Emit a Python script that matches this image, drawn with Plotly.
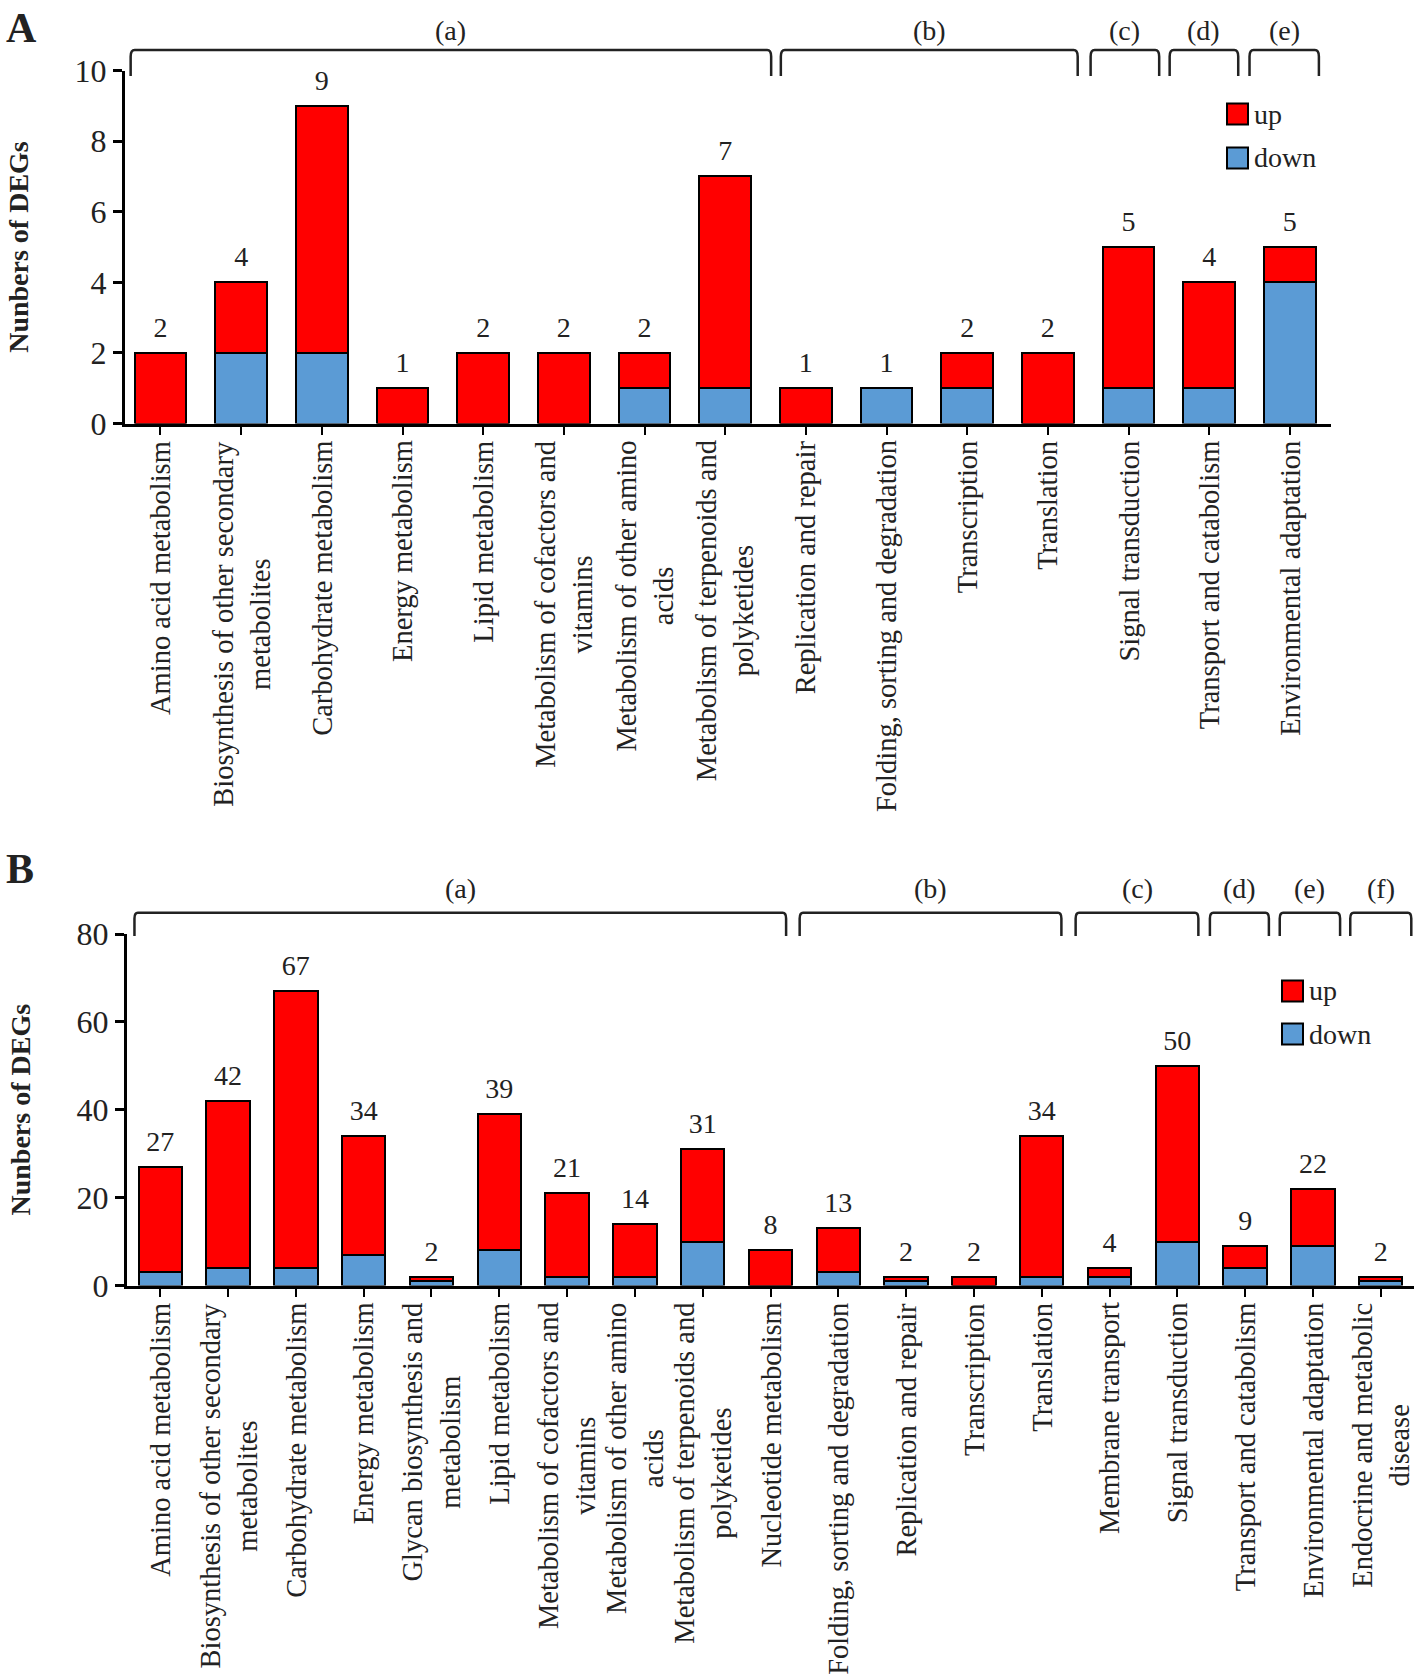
import plotly.graph_objects as go

W, H = 1416, 1677
FONT = "Liberation Serif"
RED = "#FF0000"
BLUE = "#5B9BD5"

# ---- panel A data ----
cats_a = ["Amino acid metabolism", "Biosynthesis of other secondary<br>metabolites",
          "Carbohydrate metabolism", "Energy metabolism", "Lipid metabolism",
          "Metabolism of cofactors and<br>vitamins", "Metabolism of other amino<br>acids",
          "Metabolism of terpenoids and<br>polyketides", "Replication and repair",
          "Folding, sorting and degradation", "Transcription", "Translation",
          "Signal transduction", "Transport and catabolism", "Environmental adaptation"]
up_a = [2, 2, 7, 1, 2, 2, 1, 6, 1, 0, 1, 2, 4, 3, 1]
down_a = [0, 2, 2, 0, 0, 0, 1, 1, 0, 1, 1, 0, 1, 1, 4]
groups_a = ["(a)", "(b)", "(c)", "(d)", "(e)"]

# ---- panel B data ----
cats_b = ["Amino acid metabolism", "Biosynthesis of other secondary<br>metabolites",
          "Carbohydrate metabolism", "Energy metabolism", "Glycan biosynthesis and<br>metabolism",
          "Lipid metabolism", "Metabolism of cofactors and<br>vitamins",
          "Metabolism of other amino<br>acids", "Metabolism of terpenoids and<br>polyketides",
          "Nucleotide metabolism", "Folding, sorting and degradation", "Replication and repair",
          "Transcription", "Translation", "Membrane transport", "Signal transduction",
          "Transport and catabolism", "Environmental adaptation",
          "Endocrine and metabolic<br>disease"]
up_b = [24, 38, 63, 27, 1, 31, 19, 12, 21, 8, 10, 1, 2, 32, 2, 40, 5, 13, 1]
down_b = [3, 4, 4, 7, 1, 8, 2, 2, 10, 0, 3, 1, 0, 2, 2, 10, 4, 9, 1]
groups_b = ["(a)", "(b)", "(c)", "(d)", "(e)", "(f)"]

# bracket extents in category-index units (layout only)
brackets_a = [(-0.37, 7.57), (7.69, 11.37), (11.53, 12.38), (12.51, 13.36), (13.5, 14.36)]
brackets_b = [(-0.38, 9.23), (9.43, 13.29), (13.5, 15.31), (15.48, 16.35), (16.51, 17.4), (17.55, 18.45)]


def py(y):
    return 1 - y / H


def px_(x):
    return x / W


fig = go.Figure()


def add_panel(cats, up, down, xa, ya, y_axis_px):
    idx = list(range(len(cats)))
    tot = [u + d for u, d in zip(up, down)]
    fig.add_trace(go.Bar(x=idx, y=down, name="down", width=0.64,
                         marker=dict(color=BLUE, line=dict(color="black", width=2)),
                         xaxis=xa, yaxis=ya, showlegend=False))
    fig.add_trace(go.Bar(x=idx, y=up, name="up", width=0.64,
                         marker=dict(color=RED, line=dict(color="black", width=2)),
                         xaxis=xa, yaxis=ya, showlegend=False))
    fig.add_trace(go.Scatter(x=idx, y=tot, mode="markers+text", text=[str(t) for t in tot],
                             textposition="top center", cliponaxis=False,
                             marker=dict(size=13, color="rgba(0,0,0,0)"),
                             textfont=dict(family=FONT, size=28, color="#222"),
                             xaxis=xa, yaxis=ya, showlegend=False, hoverinfo="skip"))
    # category labels, rotated, lines centred on each other
    for i, c in zip(idx, cats):
        fig.add_annotation(x=i, y=py(y_axis_px), xref=xa, yref="paper", text=c,
                           textangle=-90, showarrow=False, xanchor="center", yanchor="top",
                           align="center", yshift=-15,
                           font=dict(family=FONT, size=28.5, color="#222"))


add_panel(cats_a, up_a, down_a, "x", "y", 423.5)
add_panel(cats_b, up_b, down_b, "x2", "y2", 1285.5)


def xaxis(cats, dom, rng, anchor):
    return dict(domain=dom, range=rng, anchor=anchor,
                tickmode="array", tickvals=list(range(len(cats))), showticklabels=False,
                ticks="outside", ticklen=8, tickwidth=2, tickcolor="black",
                showline=True, linewidth=3, linecolor="black", showgrid=False, zeroline=False,
                automargin=False)


def yaxis(dom, rng, dtick, anchor):
    return dict(domain=dom, range=rng, dtick=dtick, anchor=anchor,
                ticks="outside", ticklen=9, tickwidth=3, tickcolor="black",
                showline=True, linewidth=3, linecolor="black", showgrid=False, zeroline=False,
                tickfont=dict(family=FONT, size=32, color="#222"), automargin=False,
                title=dict(text="<b>Nunbers of DEGs</b>", standoff=38,
                           font=dict(family=FONT, size=28, color="#222")))


fig.update_layout(
    width=W, height=H, margin=dict(l=0, r=0, t=0, b=0),
    paper_bgcolor="white", plot_bgcolor="white", barmode="stack",
    xaxis=xaxis(cats_a, [px_(125), px_(1331)], [-0.44, 14.51], "y"),
    yaxis=yaxis([py(423.5), py(70.6)], [0, 10], 2, "x"),
    xaxis2=xaxis(cats_b, [px_(127), px_(1414)], [-0.49, 18.49], "y2"),
    yaxis2=yaxis([py(1285.5), py(934)], [0, 80], 20, "x2"),
)


def add_brackets(groups, spans, xref, y_top, y_bot, y_lab):
    for g, (x0, x1) in zip(groups, spans):
        d = 0.05
        yc = y_top - (y_top - y_bot) * 0.25
        path = (f"M {x0},{y_bot} L {x0},{yc} Q {x0},{y_top} {x0 + d},{y_top} "
                f"L {x1 - d},{y_top} Q {x1},{y_top} {x1},{yc} L {x1},{y_bot}")
        fig.add_shape(type="path", path=path, xref=xref, yref="paper",
                      line=dict(color="#222", width=2.5))
        fig.add_annotation(x=(x0 + x1) / 2, y=y_lab, xref=xref, yref="paper",
                           text=g, showarrow=False, yanchor="middle",
                           font=dict(family=FONT, size=28, color="#222"))


add_brackets(groups_a, brackets_a, "x", py(50), py(76), py(30))
add_brackets(groups_b, brackets_b, "x2", py(912.7), py(936), py(888))


def add_legend(x0, y_up, y_down):
    for name, col, yy in (("up", RED, y_up), ("down", BLUE, y_down)):
        fig.add_shape(type="rect", xref="paper", yref="paper",
                      x0=px_(x0), x1=px_(x0 + 21), y0=py(yy + 10.5), y1=py(yy - 10.5),
                      fillcolor=col, line=dict(color="black", width=2))
        fig.add_annotation(x=px_(x0 + 25), y=py(yy), xref="paper", yref="paper",
                           text=name, showarrow=False, xanchor="left", yanchor="middle",
                           font=dict(family=FONT, size=28, color="#222"))


add_legend(1227, 114, 158)
add_legend(1282, 991, 1034)

for letter, yy in (("A", 28), ("B", 869)):
    fig.add_annotation(x=px_(4), y=py(yy), xref="paper", yref="paper", text=f"<b>{letter}</b>",
                       showarrow=False, xanchor="left", yanchor="middle",
                       font=dict(family=FONT, size=42, color="#222"))

# drop the page's default body margin so the figure sits at the window origin
fig.write_html("out.html", config={"displayModeBar": False},
               post_script="document.body.style.margin='0';")
